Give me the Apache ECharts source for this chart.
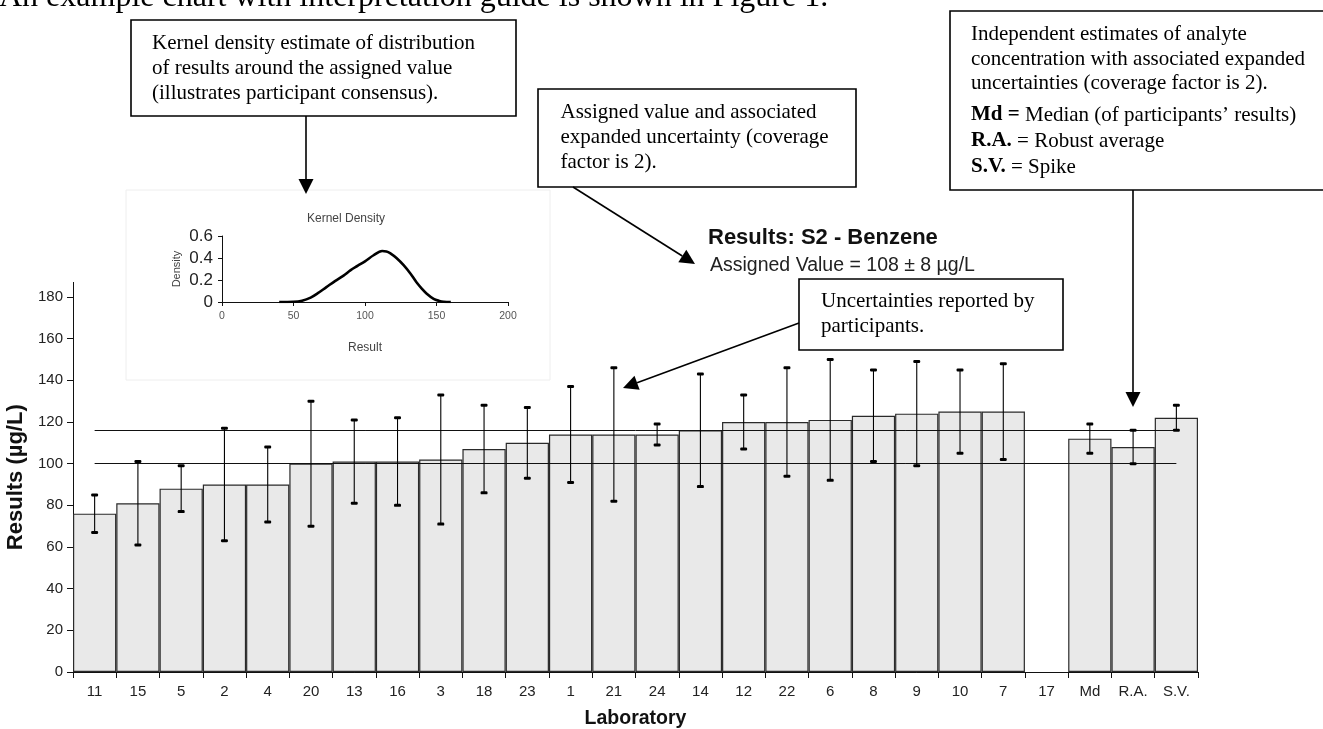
<!DOCTYPE html>
<html>
<head>
<meta charset="utf-8">
<script src="https://cdn.jsdelivr.net/npm/echarts@6/dist/echarts.min.js"></script>
<style>
  html, body { margin: 0; padding: 0; background: #fff; }
  #chart { width: 1323px; height: 729px; }
</style>
</head>
<body>
<div id="chart"></div>
<script>
// Laboratory codes in ranked order, followed by the independent estimates
const laboratories = ['11','15','5','2','4','20','13','16','3','18','23','1','21','24','14','12','22','6','8','9','10','7','17','Md','R.A.','S.V.'];
// Reported results (µg/L); laboratory 17 returned no result
const results = [76, 81, 88, 90, 90, 100, 101, 101, 102, 107, 110, 114, 114, 114, 116, 120, 120, 121, 123, 124, 125, 125, null, 112, 108, 122];
// Expanded uncertainties reported with each result (µg/L)
const uncertainties = [9, 20, 11, 27, 18, 30, 20, 21, 31, 21, 17, 23, 32, 5, 27, 13, 26, 29, 22, 25, 20, 23, null, 7, 8, 6];
// Assigned value and its expanded uncertainty (coverage factor 2)
const assignedValue = 108;
const assignedUncertainty = 8;
// Value-axis tick labels
const resultTicks = [0, 20, 40, 60, 80, 100, 120, 140, 160, 180];

// Kernel density estimate of the participants' results: [result, density]
const densityCurve = [
  [40, 0], [50, 0.002], [56, 0.012], [62, 0.04], [67, 0.08], [73, 0.135], [79, 0.19],
  [85, 0.24], [90, 0.29], [95, 0.33], [100, 0.37], [106, 0.425], [112, 0.463],
  [115, 0.46], [118, 0.44], [122, 0.40], [127, 0.335], [132, 0.255], [136, 0.18],
  [140, 0.118], [143, 0.078], [148, 0.028], [152, 0.01], [155, 0.003], [160, 0]
];
const densityTicksX = [0, 50, 100, 150, 200];
const densityTicksY = [0, 0.2, 0.4, 0.6];

const SANS = '"Liberation Sans", Arial, sans-serif';
const SERIF = '"Liberation Serif", "Times New Roman", serif';

// error-bar rows: [category index, low, high]
const errorRows = [];
results.forEach((v, i) => {
  if (v !== null && uncertainties[i] !== null) {
    errorRows.push([i, v - uncertainties[i], v + uncertainties[i]]);
  }
});

// annotation helpers
function box(x, y, w, h) {
  return { type: 'rect', z: 100, shape: { x: x, y: y, width: w, height: h },
           style: { fill: '#fff', stroke: '#000', lineWidth: 1.6 } };
}
function note(x, y, text, lineHeight, rich) {
  return { type: 'text', z: 101, x: x, y: y,
           style: { text: text, font: '21px ' + SERIF, fill: '#000',
                    lineHeight: lineHeight, verticalAlign: 'top', rich: rich || undefined } };
}
function arrow(x1, y1, x2, y2) {
  const len = 15, half = 7.5;
  const dx = x2 - x1, dy = y2 - y1, d = Math.sqrt(dx * dx + dy * dy);
  const ux = dx / d, uy = dy / d;
  const bx = x2 - ux * len, by = y2 - uy * len;
  return [
    { type: 'line', z: 100, shape: { x1: x1, y1: y1, x2: bx, y2: by },
      style: { stroke: '#000', lineWidth: 1.6 } },
    { type: 'polygon', z: 100,
      shape: { points: [[x2, y2], [bx - uy * half, by + ux * half], [bx + uy * half, by - ux * half]] },
      style: { fill: '#000' } }
  ];
}

const chart = echarts.init(document.getElementById('chart'), null, { renderer: 'canvas' });

const boldRich = {
  b: { font: 'bold 21px ' + SERIF, fill: '#000' },
  n: { font: '21px ' + SERIF, fill: '#000' }
};

chart.setOption({
  animation: false,
  backgroundColor: '#fff',
  title: [
    { text: 'Results: S2 - Benzene', left: 703, top: 222,
      textStyle: { fontFamily: SANS, fontWeight: 'bold', fontSize: 22, color: '#111' } },
    { text: 'Assigned Value = ' + assignedValue + ' \u00b1 ' + assignedUncertainty + ' \u00b5g/L', left: 705, top: 251,
      textStyle: { fontFamily: SANS, fontWeight: 'normal', fontSize: 19.5, color: '#222' } },
    { text: 'Kernel Density', left: 341, top: 208, textAlign: 'center',
      textStyle: { fontFamily: SANS, fontWeight: 'normal', fontSize: 12, color: '#444' } }
  ],
  grid: [
    { left: 73, right: 125, top: 282.4, bottom: 57, containLabel: false, outerBoundsMode: 'none' },
    { left: 222, top: 236, width: 286, height: 66, containLabel: false, outerBoundsMode: 'none' }
  ],
  xAxis: [
    {
      type: 'category', gridIndex: 0, data: laboratories, boundaryGap: true,
      name: 'Laboratory', nameLocation: 'middle', nameGap: 37,
      nameTextStyle: { fontFamily: SANS, fontWeight: 'bold', fontSize: 19.5, color: '#111' },
      axisLine: { lineStyle: { color: '#111', width: 1 } },
      axisTick: { show: true, interval: 0, length: 6, lineStyle: { color: '#111' } },
      axisLabel: { interval: 0, margin: 12, fontFamily: SANS, fontSize: 15, color: '#222' },
      splitLine: { show: false }
    },
    {
      type: 'value', gridIndex: 1, min: 0, max: 200, interval: 50,
      name: 'Result', nameLocation: 'middle', nameGap: 40,
      nameTextStyle: { fontFamily: SANS, fontSize: 12, color: '#444' },
      axisLine: { onZero: false, lineStyle: { color: '#111' } },
      axisTick: { show: true, length: 4, lineStyle: { color: '#111' } },
      axisLabel: { margin: 9, fontFamily: SANS, fontSize: 10.5, color: '#555',
                   customValues: densityTicksX },
      splitLine: { show: false }
    }
  ],
  yAxis: [
    {
      type: 'value', gridIndex: 0, min: 0, max: 187,
      name: 'Results (\u00b5g/L)', nameLocation: 'middle', nameGap: 41,
      nameTextStyle: { fontFamily: SANS, fontWeight: 'bold', fontSize: 22, color: '#111' },
      axisLine: { show: true, lineStyle: { color: '#111', width: 1 } },
      axisTick: { show: true, length: 6, customValues: resultTicks, lineStyle: { color: '#111' } },
      axisLabel: { margin: 10, fontFamily: SANS, fontSize: 15, color: '#222', customValues: resultTicks },
      splitLine: { show: false }
    },
    {
      type: 'value', gridIndex: 1, min: 0, max: 0.6,
      name: 'Density', nameLocation: 'middle', nameGap: 40,
      nameTextStyle: { fontFamily: SANS, fontSize: 11, color: '#444' },
      axisLine: { show: true, lineStyle: { color: '#111' } },
      axisTick: { show: true, length: 4, customValues: densityTicksY, lineStyle: { color: '#111' } },
      axisLabel: { margin: 9, fontFamily: SANS, fontSize: 17, color: '#222', customValues: densityTicksY,
                   formatter: v => String(Math.round(v * 10) / 10) },
      splitLine: { show: false }
    }
  ],
  series: [
    {
      type: 'bar', xAxisIndex: 0, yAxisIndex: 0, data: results,
      barCategoryGap: '0%',
      itemStyle: { color: '#e9e9e9', borderColor: '#2a2a2a', borderWidth: 1.2 },
      markLine: {
        silent: true, symbol: 'none', label: { show: false },
        lineStyle: { color: '#111', width: 1, type: 'solid' },
        data: [
          [{ coord: [laboratories[0], assignedValue + assignedUncertainty] },
           { coord: [laboratories[laboratories.length - 1], assignedValue + assignedUncertainty] }],
          [{ coord: [laboratories[0], assignedValue - assignedUncertainty] },
           { coord: [laboratories[laboratories.length - 1], assignedValue - assignedUncertainty] }]
        ]
      }
    },
    {
      type: 'custom', xAxisIndex: 0, yAxisIndex: 0, z: 5, data: errorRows,
      renderItem: function (params, api) {
        const lo = api.coord([api.value(0), api.value(1)]);
        const hi = api.coord([api.value(0), api.value(2)]);
        const cw = 7, ch = 3;
        return {
          type: 'group', children: [
            { type: 'line', shape: { x1: lo[0], y1: lo[1], x2: hi[0], y2: hi[1] },
              style: { stroke: '#000', lineWidth: 1.1 } },
            { type: 'rect', shape: { x: hi[0] - cw / 2, y: hi[1] - ch / 2, width: cw, height: ch, r: 1.2 },
              style: { fill: '#000' } },
            { type: 'rect', shape: { x: lo[0] - cw / 2, y: lo[1] - ch / 2, width: cw, height: ch, r: 1.2 },
              style: { fill: '#000' } }
          ]
        };
      }
    },
    {
      type: 'line', xAxisIndex: 1, yAxisIndex: 1, data: densityCurve,
      smooth: 0.35, showSymbol: false, symbol: 'none',
      lineStyle: { color: '#000', width: 2.6 }
    }
  ],
  graphic: [
    { type: 'rect', z: -1, silent: true, shape: { x: 126, y: 190, width: 424, height: 190 },
      style: { fill: 'none', stroke: '#eeeeee', lineWidth: 1 } },
    { type: 'text', z: 101, x: -1, y: -2,
      style: { text: 'An example chart with interpretation guide is shown in Figure 1.',
               font: '32px ' + SERIF, fill: '#000', verticalAlign: 'middle' } },

    box(131, 20, 385, 96),
    note(152, 30.5, 'Kernel density estimate of distribution\nof results around the assigned value\n(illustrates participant consensus).', 25),
    ...arrow(306, 116, 306, 194),

    box(538, 89, 318, 98),
    note(560.5, 99.5, 'Assigned value and associated\nexpanded uncertainty (coverage\nfactor is 2).', 25),
    ...arrow(573, 187, 695, 264),

    box(799, 279, 264, 71),
    note(821, 289, 'Uncertainties reported by\nparticipants.', 25),
    ...arrow(799, 323, 623, 388),

    box(950, 11, 380, 179),
    note(971, 22.5, 'Independent estimates of analyte\nconcentration with associated expanded\nuncertainties (coverage factor is 2).', 24.5),
    note(971, 102, '{b|Md =} {n|Median (of participants\u2019 results)}\n{b|R.A.} {n|= Robust average}\n{b|S.V.} {n|= Spike}', 26, boldRich),
    ...arrow(1133, 190, 1133, 407)
  ]
});
</script>
</body>
</html>
